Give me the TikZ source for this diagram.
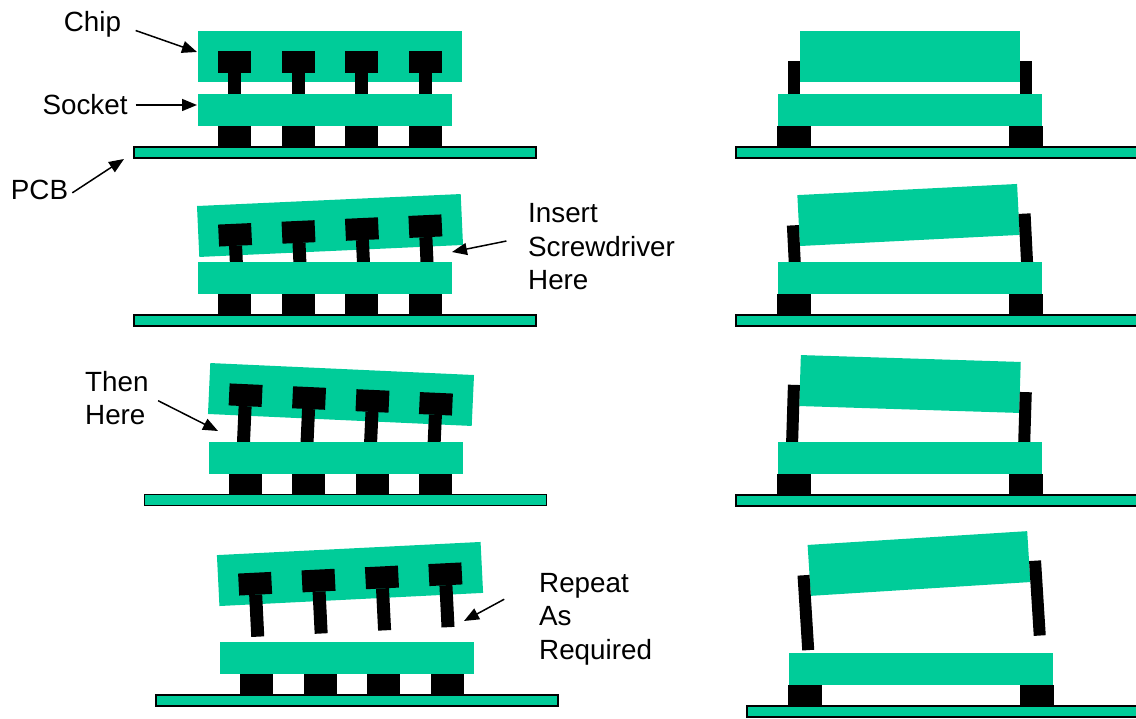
\documentclass[tikz,border=0pt]{standalone}
\usepackage{fontspec}
\setmainfont{Liberation Sans}
\usetikzlibrary{arrows.meta}
\definecolor{pcbgreen}{RGB}{0,204,153}
\tikzstyle{board} = [
    fill=pcbgreen,
    draw=black,
    line width=1.2pt
]
\tikzstyle{plastic} = [fill=pcbgreen]
\tikzstyle{metal} = [fill=black]
\tikzstyle{note} = [
    font=\fontsize{27.8}{33.5}\selectfont,
    align=left,
    inner sep=4pt
]
\tikzstyle{arrow} = [line width=1.5pt,-{Triangle[length=15pt,width=12pt]}]

\begin{document}
\begin{tikzpicture}[x=1pt, y=-1pt]
\useasboundingbox (0,0) rectangle (1136,719);

% front view: chip lifted step by step
\foreach \bx/\by/\cx/\cy/\ang in {0/0/330/57/0, 0/168/330/225.5/2.6,
    10.5/347.5/341/394.5/-2.6, 22/548/350/574/2.85} {
  % chip with its pins
  \begin{scope}[shift={(\cx,\cy)}, rotate=\ang]
    \fill[plastic] (-132,-25.5) rectangle (132,25.5);
    \foreach \px in {-95.25,-31.75,31.75,95.25} {
      \fill[metal] (\px-16.5,-6) rectangle (\px+16.5,16);
      \fill[metal] (\px-6.5,16) rectangle (\px+6.5,58);
    }
  \end{scope}
  % socket, legs and board
  \begin{scope}[shift={(\bx,\by)}]
    \fill[plastic] (198,94) rectangle (452,126);
    \foreach \lx in {218,281.5,345,408.5}
      \fill[metal] (\lx,126) rectangle (\lx+33,147);
    \draw[board] (134,147) rectangle (536,158);
  \end{scope}
}

% side view of the same steps
\foreach \bx/\by/\cx/\cy/\ang in {0/0/910/56.5/0, 0/168/908.5/215/2.9,
    0/348/910/384/-1.8, 11/559/919/563.5/3.6} {
  \begin{scope}[shift={(\cx,\cy)}, rotate=\ang]
    \fill[plastic] (-110,-25.5) rectangle (110,25.5);
    \fill[metal] (-122,4.5) rectangle (-110,79.5);
    \fill[metal] (110,4.5) rectangle (122,79.5);
  \end{scope}
  \begin{scope}[shift={(\bx,\by)}]
    \fill[plastic] (778,94) rectangle (1042,126);
    \fill[metal] (777,126) rectangle (811,147);
    \fill[metal] (1009,126) rectangle (1043,147);
    \draw[board] (736,147) rectangle (1150,158);
  \end{scope}
}

% labels
\node[note] (chip) at (92.5,24) {Chip};
\node[note] (socket) at (85,105) {Socket};
\node[note] (pcb) at (39.5,190) {PCB};
\node[note, anchor=west] (insert) at (524,247) {Insert\\Screwdriver\\Here};
\node[note, anchor=west] (then) at (81,398) {Then\\Here};
\node[note, anchor=west] (repeat) at (535,619) {Repeat\\As\\Required};

\coordinate (chiptip) at (197,52);
\coordinate (socktip) at (197,105);
\coordinate (pcbtip) at (124,159);
\coordinate (screwtip) at (452,252);
\coordinate (thentip) at (218,431);
\coordinate (repeattip) at (464,621);

\draw[arrow, shorten <=11pt] (chip.-5) -- (chiptip);
\draw[arrow, shorten <=4pt] (socket.east) -- (socktip);
\draw[arrow] (pcb.-5) -- (pcbtip);
\draw[arrow, shorten <=18pt] (insert.173) -- (screwtip);
\draw[arrow, shorten <=6pt] (then.east) -- (thentip);
\draw[arrow, shorten <=35pt] (repeat.149) -- (repeattip);

\end{tikzpicture}
\end{document}
